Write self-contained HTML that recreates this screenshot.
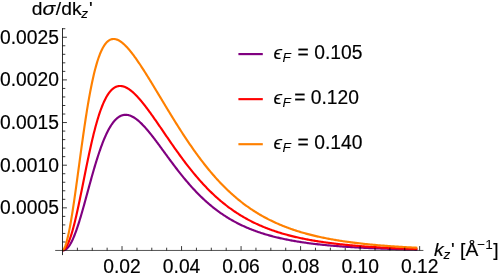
<!DOCTYPE html>
<html><head><meta charset="utf-8"><title>plot</title>
<style>html,body{margin:0;padding:0;background:#fff;width:498px;height:274px;overflow:hidden}</style>
</head><body>
<svg width="498" height="274" viewBox="0 0 498 274" style="display:block;position:absolute;left:0;top:0">
<rect width="498" height="274" fill="#fff"/>
<path d="M62.50,250.50 L63.00,250.48 L63.50,250.40 L64.00,250.28 L64.50,250.11 L65.00,249.89 L65.50,249.61 L66.00,249.28 L66.50,248.89 L67.00,248.45 L67.50,247.95 L68.00,247.39 L68.50,246.78 L69.00,246.12 L69.50,245.39 L70.00,244.62 L70.50,243.79 L71.00,242.90 L71.50,241.96 L72.00,240.97 L72.50,239.93 L73.00,238.83 L73.50,237.69 L74.00,236.50 L74.50,235.26 L75.00,233.98 L75.50,232.66 L76.00,231.29 L76.50,229.89 L77.00,228.44 L77.50,226.96 L78.00,225.44 L78.50,223.89 L79.00,222.31 L79.50,220.70 L80.00,219.06 L80.50,217.39 L81.00,215.70 L81.50,213.99 L82.00,212.26 L82.50,210.51 L83.00,208.74 L83.50,206.96 L84.00,205.17 L84.50,203.36 L85.00,201.54 L85.50,199.72 L86.00,197.89 L86.50,196.06 L87.00,194.22 L87.50,192.38 L88.00,190.55 L88.50,188.71 L89.00,186.88 L89.50,185.05 L90.00,183.23 L90.50,181.42 L91.00,179.62 L91.50,177.83 L92.00,176.05 L92.50,174.28 L93.00,172.53 L93.50,170.79 L94.00,169.07 L94.50,167.36 L95.00,165.68 L95.50,164.02 L96.00,162.37 L96.50,160.75 L97.00,159.15 L97.50,157.57 L98.00,156.02 L98.50,154.49 L99.00,152.98 L99.50,151.50 L100.00,150.05 L100.50,148.63 L101.00,147.23 L101.50,145.86 L102.00,144.52 L102.50,143.21 L103.00,141.92 L103.50,140.67 L104.00,139.45 L104.50,138.25 L105.00,137.09 L105.50,135.95 L106.00,134.85 L106.50,133.78 L107.00,132.74 L107.50,131.73 L108.00,130.75 L108.50,129.80 L109.00,128.88 L109.50,128.00 L110.00,127.14 L110.50,126.32 L111.00,125.52 L111.50,124.76 L112.00,124.03 L112.50,123.32 L113.00,122.65 L113.50,122.01 L114.00,121.39 L114.50,120.81 L115.00,120.25 L115.50,119.73 L116.00,119.23 L116.50,118.76 L117.00,118.32 L117.50,117.91 L118.00,117.52 L118.50,117.17 L119.00,116.84 L119.50,116.53 L120.00,116.25 L120.50,116.00 L121.00,115.77 L121.50,115.57 L122.00,115.39 L122.50,115.24 L123.00,115.11 L123.50,115.00 L124.00,114.92 L124.50,114.86 L125.00,114.82 L125.50,114.81 L126.00,114.82 L126.50,114.84 L127.00,114.89 L127.50,114.96 L128.00,115.05 L128.50,115.16 L129.00,115.29 L129.50,115.43 L130.00,115.60 L130.50,115.78 L131.00,115.98 L131.50,116.20 L132.00,116.44 L132.50,116.69 L133.00,116.96 L133.50,117.24 L134.00,117.54 L134.50,117.85 L135.00,118.18 L135.50,118.53 L136.00,118.88 L136.50,119.25 L137.00,119.64 L137.50,120.03 L138.00,120.44 L138.50,120.87 L139.00,121.30 L139.50,121.75 L140.00,122.20 L140.50,122.67 L141.00,123.15 L141.50,123.63 L142.00,124.13 L142.50,124.64 L143.00,125.16 L143.50,125.68 L144.00,126.22 L144.50,126.76 L145.00,127.31 L145.50,127.87 L146.00,128.44 L146.50,129.01 L147.00,129.59 L147.50,130.18 L148.00,130.77 L148.50,131.37 L149.00,131.98 L149.50,132.59 L150.00,133.21 L150.50,133.83 L151.00,134.45 L151.50,135.09 L152.00,135.72 L152.50,136.36 L153.00,137.01 L153.50,137.66 L154.00,138.31 L154.50,138.96 L155.00,139.62 L155.50,140.28 L156.00,140.95 L156.50,141.62 L157.00,142.28 L157.50,142.96 L158.00,143.63 L158.50,144.31 L159.00,144.98 L159.50,145.66 L160.00,146.34 L160.50,147.02 L161.00,147.71 L161.50,148.39 L162.00,149.07 L162.50,149.76 L163.00,150.44 L163.50,151.13 L164.00,151.81 L164.50,152.50 L165.00,153.18 L165.50,153.87 L166.00,154.55 L166.50,155.23 L167.00,155.92 L167.50,156.60 L168.00,157.28 L168.50,157.96 L169.00,158.64 L169.50,159.32 L170.00,160.00 L171.00,161.34 L172.00,162.69 L173.00,164.02 L174.00,165.35 L175.00,166.67 L176.00,167.98 L177.00,169.28 L178.00,170.57 L179.00,171.85 L180.00,173.12 L181.00,174.38 L182.00,175.62 L183.00,176.86 L184.00,178.08 L185.00,179.28 L186.00,180.48 L187.00,181.66 L188.00,182.82 L189.00,183.98 L190.00,185.12 L191.00,186.24 L192.00,187.35 L193.00,188.45 L194.00,189.53 L195.00,190.60 L196.00,191.65 L197.00,192.69 L198.00,193.71 L199.00,194.72 L200.00,195.71 L201.00,196.69 L202.00,197.65 L203.00,198.60 L204.00,199.54 L205.00,200.46 L206.00,201.36 L207.00,202.25 L208.00,203.13 L209.00,203.99 L210.00,204.84 L211.00,205.67 L212.00,206.49 L213.00,207.30 L214.00,208.10 L215.00,208.87 L216.00,209.64 L217.00,210.39 L218.00,211.13 L219.00,211.86 L220.00,212.58 L221.00,213.28 L222.00,213.97 L223.00,214.65 L224.00,215.31 L225.00,215.96 L226.00,216.61 L227.00,217.24 L228.00,217.85 L229.00,218.46 L230.00,219.06 L231.00,219.64 L232.00,220.22 L233.00,220.78 L234.00,221.33 L235.00,221.88 L236.00,222.41 L237.00,222.93 L238.00,223.45 L239.00,223.95 L240.00,224.44 L241.00,224.93 L242.00,225.41 L243.00,225.87 L244.00,226.33 L245.00,226.78 L246.00,227.22 L247.00,227.65 L248.00,228.08 L249.00,228.49 L250.00,228.90 L251.00,229.30 L252.00,229.70 L253.00,230.08 L254.00,230.46 L255.00,230.83 L256.00,231.20 L257.00,231.55 L258.00,231.90 L259.00,232.25 L260.00,232.58 L261.00,232.91 L262.00,233.24 L263.00,233.56 L264.00,233.87 L265.00,234.18 L266.00,234.48 L267.00,234.77 L268.00,235.06 L269.00,235.34 L270.00,235.62 L271.00,235.89 L272.00,236.16 L273.00,236.42 L274.00,236.68 L275.00,236.93 L276.00,237.18 L277.00,237.43 L278.00,237.66 L279.00,237.90 L280.00,238.13 L281.00,238.35 L282.00,238.57 L283.00,238.79 L284.00,239.00 L285.00,239.21 L286.00,239.42 L287.00,239.62 L288.00,239.82 L289.00,240.01 L290.00,240.20 L291.00,240.39 L292.00,240.57 L293.00,240.75 L294.00,240.93 L295.00,241.10 L296.00,241.27 L297.00,241.44 L298.00,241.60 L299.00,241.76 L300.00,241.92 L301.00,242.07 L302.00,242.22 L303.00,242.37 L304.00,242.52 L305.00,242.66 L306.00,242.80 L307.00,242.94 L308.00,243.08 L309.00,243.21 L310.00,243.34 L311.00,243.47 L312.00,243.60 L313.00,243.72 L314.00,243.84 L315.00,243.96 L316.00,244.08 L317.00,244.19 L318.00,244.31 L319.00,244.42 L320.00,244.53 L321.00,244.64 L322.00,244.74 L323.00,244.84 L324.00,244.95 L325.00,245.05 L326.00,245.14 L327.00,245.24 L328.00,245.33 L329.00,245.43 L330.00,245.52 L331.00,245.61 L332.00,245.70 L333.00,245.78 L334.00,245.87 L335.00,245.95 L336.00,246.03 L337.00,246.11 L338.00,246.19 L339.00,246.27 L340.00,246.35 L341.00,246.42 L342.00,246.50 L343.00,246.57 L344.00,246.64 L345.00,246.71 L346.00,246.78 L347.00,246.85 L348.00,246.91 L349.00,246.98 L350.00,247.04 L351.00,247.11 L352.00,247.17 L353.00,247.23 L354.00,247.29 L355.00,247.35 L356.00,247.41 L357.00,247.46 L358.00,247.52 L359.00,247.58 L360.00,247.63 L361.00,247.68 L362.00,247.74 L363.00,247.79 L364.00,247.84 L365.00,247.89 L366.00,247.94 L367.00,247.98 L368.00,248.03 L369.00,248.08 L370.00,248.12 L371.00,248.17 L372.00,248.21 L373.00,248.26 L374.00,248.30 L375.00,248.34 L376.00,248.38 L377.00,248.42 L378.00,248.46 L379.00,248.50 L380.00,248.54 L381.00,248.58 L382.00,248.62 L383.00,248.66 L384.00,248.69 L385.00,248.73 L386.00,248.76 L387.00,248.80 L388.00,248.83 L389.00,248.86 L390.00,248.90 L391.00,248.93 L392.00,248.96 L393.00,248.99 L394.00,249.02 L395.00,249.05 L396.00,249.08 L397.00,249.11 L398.00,249.14 L399.00,249.17 L400.00,249.20 L401.00,249.23 L402.00,249.25 L403.00,249.28 L404.00,249.31 L405.00,249.33 L406.00,249.36 L407.00,249.38 L408.00,249.41 L409.00,249.43 L410.00,249.46 L411.00,249.48 L412.00,249.50 L413.00,249.53 L414.00,249.55 L415.00,249.57 L416.00,249.59 L417.00,249.61 L417.40,249.62" fill="none" stroke="#800080" stroke-width="2.15" stroke-linejoin="round"/>
<path d="M62.50,250.50 L63.00,250.31 L63.50,250.03 L64.00,249.66 L64.50,249.21 L65.00,248.66 L65.50,248.03 L66.00,247.32 L66.50,246.52 L67.00,245.63 L67.50,244.67 L68.00,243.62 L68.50,242.48 L69.00,241.27 L69.50,239.98 L70.00,238.61 L70.50,237.17 L71.00,235.66 L71.50,234.07 L72.00,232.41 L72.50,230.69 L73.00,228.90 L73.50,227.05 L74.00,225.14 L74.50,223.17 L75.00,221.15 L75.50,219.07 L76.00,216.95 L76.50,214.78 L77.00,212.56 L77.50,210.30 L78.00,208.01 L78.50,205.68 L79.00,203.32 L79.50,200.94 L80.00,198.53 L80.50,196.09 L81.00,193.64 L81.50,191.17 L82.00,188.69 L82.50,186.21 L83.00,183.71 L83.50,181.21 L84.00,178.72 L84.50,176.22 L85.00,173.73 L85.50,171.25 L86.00,168.78 L86.50,166.33 L87.00,163.89 L87.50,161.47 L88.00,159.07 L88.50,156.69 L89.00,154.34 L89.50,152.02 L90.00,149.72 L90.50,147.46 L91.00,145.23 L91.50,143.03 L92.00,140.87 L92.50,138.75 L93.00,136.66 L93.50,134.61 L94.00,132.61 L94.50,130.64 L95.00,128.72 L95.50,126.84 L96.00,125.00 L96.50,123.21 L97.00,121.47 L97.50,119.76 L98.00,118.11 L98.50,116.50 L99.00,114.93 L99.50,113.41 L100.00,111.94 L100.50,110.51 L101.00,109.13 L101.50,107.79 L102.00,106.50 L102.50,105.25 L103.00,104.05 L103.50,102.89 L104.00,101.78 L104.50,100.71 L105.00,99.68 L105.50,98.70 L106.00,97.75 L106.50,96.85 L107.00,95.99 L107.50,95.18 L108.00,94.40 L108.50,93.66 L109.00,92.96 L109.50,92.29 L110.00,91.67 L110.50,91.08 L111.00,90.52 L111.50,90.01 L112.00,89.52 L112.50,89.07 L113.00,88.66 L113.50,88.27 L114.00,87.92 L114.50,87.60 L115.00,87.31 L115.50,87.06 L116.00,86.83 L116.50,86.63 L117.00,86.45 L117.50,86.31 L118.00,86.19 L118.50,86.10 L119.00,86.03 L119.50,85.99 L120.00,85.97 L120.50,85.98 L121.00,86.01 L121.50,86.06 L122.00,86.14 L122.50,86.23 L123.00,86.35 L123.50,86.49 L124.00,86.64 L124.50,86.82 L125.00,87.02 L125.50,87.23 L126.00,87.47 L126.50,87.72 L127.00,87.98 L127.50,88.27 L128.00,88.57 L128.50,88.88 L129.00,89.21 L129.50,89.56 L130.00,89.92 L130.50,90.30 L131.00,90.68 L131.50,91.09 L132.00,91.50 L132.50,91.93 L133.00,92.37 L133.50,92.82 L134.00,93.28 L134.50,93.76 L135.00,94.24 L135.50,94.74 L136.00,95.24 L136.50,95.76 L137.00,96.28 L137.50,96.82 L138.00,97.36 L138.50,97.91 L139.00,98.47 L139.50,99.04 L140.00,99.62 L140.50,100.20 L141.00,100.80 L141.50,101.40 L142.00,102.00 L142.50,102.62 L143.00,103.23 L143.50,103.86 L144.00,104.49 L144.50,105.13 L145.00,105.77 L145.50,106.42 L146.00,107.07 L146.50,107.73 L147.00,108.40 L147.50,109.06 L148.00,109.74 L148.50,110.41 L149.00,111.09 L149.50,111.78 L150.00,112.47 L150.50,113.16 L151.00,113.85 L151.50,114.55 L152.00,115.25 L152.50,115.96 L153.00,116.66 L153.50,117.37 L154.00,118.08 L154.50,118.80 L155.00,119.51 L155.50,120.23 L156.00,120.95 L156.50,121.67 L157.00,122.40 L157.50,123.12 L158.00,123.85 L158.50,124.57 L159.00,125.30 L159.50,126.03 L160.00,126.76 L160.50,127.49 L161.00,128.22 L161.50,128.95 L162.00,129.69 L162.50,130.42 L163.00,131.15 L163.50,131.88 L164.00,132.61 L164.50,133.35 L165.00,134.08 L165.50,134.81 L166.00,135.54 L166.50,136.27 L167.00,137.00 L167.50,137.73 L168.00,138.46 L168.50,139.18 L169.00,139.91 L169.50,140.64 L170.00,141.36 L171.00,142.80 L172.00,144.24 L173.00,145.68 L174.00,147.10 L175.00,148.52 L176.00,149.93 L177.00,151.34 L178.00,152.73 L179.00,154.12 L180.00,155.50 L181.00,156.86 L182.00,158.22 L183.00,159.57 L184.00,160.90 L185.00,162.23 L186.00,163.54 L187.00,164.84 L188.00,166.13 L189.00,167.41 L190.00,168.67 L191.00,169.92 L192.00,171.16 L193.00,172.39 L194.00,173.60 L195.00,174.80 L196.00,175.99 L197.00,177.16 L198.00,178.32 L199.00,179.47 L200.00,180.60 L201.00,181.72 L202.00,182.82 L203.00,183.91 L204.00,184.99 L205.00,186.05 L206.00,187.10 L207.00,188.14 L208.00,189.16 L209.00,190.17 L210.00,191.16 L211.00,192.14 L212.00,193.11 L213.00,194.06 L214.00,195.00 L215.00,195.93 L216.00,196.84 L217.00,197.74 L218.00,198.62 L219.00,199.50 L220.00,200.36 L221.00,201.20 L222.00,202.04 L223.00,202.86 L224.00,203.66 L225.00,204.46 L226.00,205.24 L227.00,206.01 L228.00,206.77 L229.00,207.52 L230.00,208.25 L231.00,208.98 L232.00,209.69 L233.00,210.39 L234.00,211.07 L235.00,211.75 L236.00,212.42 L237.00,213.07 L238.00,213.72 L239.00,214.35 L240.00,214.97 L241.00,215.59 L242.00,216.19 L243.00,216.78 L244.00,217.36 L245.00,217.93 L246.00,218.50 L247.00,219.05 L248.00,219.59 L249.00,220.13 L250.00,220.65 L251.00,221.17 L252.00,221.68 L253.00,222.17 L254.00,222.66 L255.00,223.15 L256.00,223.62 L257.00,224.08 L258.00,224.54 L259.00,224.99 L260.00,225.43 L261.00,225.86 L262.00,226.29 L263.00,226.71 L264.00,227.12 L265.00,227.52 L266.00,227.92 L267.00,228.31 L268.00,228.69 L269.00,229.07 L270.00,229.44 L271.00,229.80 L272.00,230.16 L273.00,230.51 L274.00,230.86 L275.00,231.20 L276.00,231.53 L277.00,231.86 L278.00,232.18 L279.00,232.49 L280.00,232.80 L281.00,233.11 L282.00,233.41 L283.00,233.70 L284.00,233.99 L285.00,234.27 L286.00,234.55 L287.00,234.83 L288.00,235.09 L289.00,235.36 L290.00,235.62 L291.00,235.87 L292.00,236.13 L293.00,236.37 L294.00,236.61 L295.00,236.85 L296.00,237.09 L297.00,237.32 L298.00,237.54 L299.00,237.76 L300.00,237.98 L301.00,238.20 L302.00,238.41 L303.00,238.61 L304.00,238.82 L305.00,239.02 L306.00,239.21 L307.00,239.41 L308.00,239.59 L309.00,239.78 L310.00,239.96 L311.00,240.14 L312.00,240.32 L313.00,240.50 L314.00,240.67 L315.00,240.83 L316.00,241.00 L317.00,241.16 L318.00,241.32 L319.00,241.48 L320.00,241.63 L321.00,241.78 L322.00,241.93 L323.00,242.08 L324.00,242.22 L325.00,242.36 L326.00,242.50 L327.00,242.64 L328.00,242.77 L329.00,242.91 L330.00,243.04 L331.00,243.16 L332.00,243.29 L333.00,243.41 L334.00,243.54 L335.00,243.66 L336.00,243.77 L337.00,243.89 L338.00,244.00 L339.00,244.11 L340.00,244.22 L341.00,244.33 L342.00,244.44 L343.00,244.54 L344.00,244.65 L345.00,244.75 L346.00,244.85 L347.00,244.94 L348.00,245.04 L349.00,245.13 L350.00,245.23 L351.00,245.32 L352.00,245.41 L353.00,245.50 L354.00,245.58 L355.00,245.67 L356.00,245.76 L357.00,245.84 L358.00,245.92 L359.00,246.00 L360.00,246.08 L361.00,246.16 L362.00,246.23 L363.00,246.31 L364.00,246.38 L365.00,246.46 L366.00,246.53 L367.00,246.60 L368.00,246.67 L369.00,246.74 L370.00,246.80 L371.00,246.87 L372.00,246.93 L373.00,247.00 L374.00,247.06 L375.00,247.12 L376.00,247.18 L377.00,247.24 L378.00,247.30 L379.00,247.36 L380.00,247.42 L381.00,247.48 L382.00,247.53 L383.00,247.59 L384.00,247.64 L385.00,247.69 L386.00,247.75 L387.00,247.80 L388.00,247.85 L389.00,247.90 L390.00,247.95 L391.00,247.99 L392.00,248.04 L393.00,248.09 L394.00,248.13 L395.00,248.18 L396.00,248.22 L397.00,248.27 L398.00,248.31 L399.00,248.35 L400.00,248.40 L401.00,248.44 L402.00,248.48 L403.00,248.52 L404.00,248.56 L405.00,248.60 L406.00,248.63 L407.00,248.67 L408.00,248.71 L409.00,248.75 L410.00,248.78 L411.00,248.82 L412.00,248.85 L413.00,248.89 L414.00,248.92 L415.00,248.95 L416.00,248.99 L417.00,249.02 L417.40,249.03" fill="none" stroke="#ff0000" stroke-width="2.15" stroke-linejoin="round"/>
<path d="M62.50,250.50 L63.00,250.11 L63.50,249.53 L64.00,248.75 L64.50,247.78 L65.00,246.63 L65.50,245.31 L66.00,243.81 L66.50,242.16 L67.00,240.34 L67.50,238.37 L68.00,236.26 L68.50,234.01 L69.00,231.62 L69.50,229.11 L70.00,226.47 L70.50,223.73 L71.00,220.87 L71.50,217.91 L72.00,214.85 L72.50,211.71 L73.00,208.49 L73.50,205.19 L74.00,201.82 L74.50,198.39 L75.00,194.90 L75.50,191.37 L76.00,187.79 L76.50,184.18 L77.00,180.54 L77.50,176.87 L78.00,173.19 L78.50,169.50 L79.00,165.81 L79.50,162.12 L80.00,158.43 L80.50,154.76 L81.00,151.10 L81.50,147.47 L82.00,143.86 L82.50,140.29 L83.00,136.75 L83.50,133.25 L84.00,129.80 L84.50,126.39 L85.00,123.04 L85.50,119.74 L86.00,116.50 L86.50,113.32 L87.00,110.19 L87.50,107.14 L88.00,104.15 L88.50,101.23 L89.00,98.37 L89.50,95.59 L90.00,92.88 L90.50,90.24 L91.00,87.68 L91.50,85.19 L92.00,82.77 L92.50,80.43 L93.00,78.16 L93.50,75.97 L94.00,73.85 L94.50,71.81 L95.00,69.83 L95.50,67.94 L96.00,66.11 L96.50,64.35 L97.00,62.67 L97.50,61.05 L98.00,59.50 L98.50,58.02 L99.00,56.61 L99.50,55.26 L100.00,53.98 L100.50,52.76 L101.00,51.60 L101.50,50.50 L102.00,49.46 L102.50,48.48 L103.00,47.56 L103.50,46.69 L104.00,45.87 L104.50,45.11 L105.00,44.40 L105.50,43.74 L106.00,43.13 L106.50,42.56 L107.00,42.04 L107.50,41.57 L108.00,41.14 L108.50,40.76 L109.00,40.41 L109.50,40.11 L110.00,39.84 L110.50,39.61 L111.00,39.42 L111.50,39.27 L112.00,39.14 L112.50,39.06 L113.00,39.00 L113.50,38.98 L114.00,38.99 L114.50,39.03 L115.00,39.09 L115.50,39.19 L116.00,39.31 L116.50,39.45 L117.00,39.63 L117.50,39.82 L118.00,40.04 L118.50,40.29 L119.00,40.55 L119.50,40.84 L120.00,41.15 L120.50,41.48 L121.00,41.82 L121.50,42.19 L122.00,42.57 L122.50,42.97 L123.00,43.39 L123.50,43.83 L124.00,44.28 L124.50,44.74 L125.00,45.22 L125.50,45.72 L126.00,46.23 L126.50,46.75 L127.00,47.29 L127.50,47.83 L128.00,48.39 L128.50,48.96 L129.00,49.55 L129.50,50.14 L130.00,50.74 L130.50,51.36 L131.00,51.98 L131.50,52.61 L132.00,53.25 L132.50,53.90 L133.00,54.56 L133.50,55.23 L134.00,55.90 L134.50,56.59 L135.00,57.28 L135.50,57.97 L136.00,58.68 L136.50,59.39 L137.00,60.10 L137.50,60.83 L138.00,61.55 L138.50,62.29 L139.00,63.03 L139.50,63.77 L140.00,64.52 L140.50,65.27 L141.00,66.03 L141.50,66.80 L142.00,67.56 L142.50,68.34 L143.00,69.11 L143.50,69.89 L144.00,70.67 L144.50,71.46 L145.00,72.25 L145.50,73.04 L146.00,73.84 L146.50,74.63 L147.00,75.44 L147.50,76.24 L148.00,77.04 L148.50,77.85 L149.00,78.66 L149.50,79.48 L150.00,80.29 L150.50,81.11 L151.00,81.92 L151.50,82.74 L152.00,83.57 L152.50,84.39 L153.00,85.21 L153.50,86.04 L154.00,86.86 L154.50,87.69 L155.00,88.52 L155.50,89.35 L156.00,90.18 L156.50,91.01 L157.00,91.84 L157.50,92.67 L158.00,93.50 L158.50,94.33 L159.00,95.16 L159.50,96.00 L160.00,96.83 L160.50,97.66 L161.00,98.49 L161.50,99.32 L162.00,100.16 L162.50,100.99 L163.00,101.82 L163.50,102.65 L164.00,103.48 L164.50,104.31 L165.00,105.14 L165.50,105.96 L166.00,106.79 L166.50,107.62 L167.00,108.44 L167.50,109.27 L168.00,110.09 L168.50,110.91 L169.00,111.73 L169.50,112.55 L170.00,113.37 L171.00,115.01 L172.00,116.63 L173.00,118.26 L174.00,119.87 L175.00,121.48 L176.00,123.08 L177.00,124.67 L178.00,126.26 L179.00,127.83 L180.00,129.40 L181.00,130.96 L182.00,132.51 L183.00,134.05 L184.00,135.58 L185.00,137.10 L186.00,138.61 L187.00,140.10 L188.00,141.59 L189.00,143.07 L190.00,144.53 L191.00,145.98 L192.00,147.43 L193.00,148.85 L194.00,150.27 L195.00,151.67 L196.00,153.07 L197.00,154.44 L198.00,155.81 L199.00,157.16 L200.00,158.50 L201.00,159.83 L202.00,161.14 L203.00,162.44 L204.00,163.73 L205.00,165.00 L206.00,166.26 L207.00,167.50 L208.00,168.73 L209.00,169.95 L210.00,171.16 L211.00,172.35 L212.00,173.52 L213.00,174.68 L214.00,175.83 L215.00,176.96 L216.00,178.09 L217.00,179.19 L218.00,180.28 L219.00,181.36 L220.00,182.43 L221.00,183.48 L222.00,184.52 L223.00,185.54 L224.00,186.55 L225.00,187.55 L226.00,188.53 L227.00,189.50 L228.00,190.46 L229.00,191.40 L230.00,192.33 L231.00,193.25 L232.00,194.16 L233.00,195.05 L234.00,195.93 L235.00,196.79 L236.00,197.65 L237.00,198.49 L238.00,199.32 L239.00,200.13 L240.00,200.94 L241.00,201.73 L242.00,202.51 L243.00,203.28 L244.00,204.04 L245.00,204.79 L246.00,205.52 L247.00,206.25 L248.00,206.96 L249.00,207.66 L250.00,208.35 L251.00,209.03 L252.00,209.70 L253.00,210.36 L254.00,211.01 L255.00,211.65 L256.00,212.28 L257.00,212.90 L258.00,213.51 L259.00,214.11 L260.00,214.70 L261.00,215.28 L262.00,215.85 L263.00,216.41 L264.00,216.96 L265.00,217.51 L266.00,218.04 L267.00,218.57 L268.00,219.09 L269.00,219.60 L270.00,220.10 L271.00,220.59 L272.00,221.08 L273.00,221.56 L274.00,222.03 L275.00,222.49 L276.00,222.94 L277.00,223.39 L278.00,223.83 L279.00,224.26 L280.00,224.69 L281.00,225.11 L282.00,225.52 L283.00,225.92 L284.00,226.32 L285.00,226.71 L286.00,227.10 L287.00,227.48 L288.00,227.85 L289.00,228.22 L290.00,228.58 L291.00,228.93 L292.00,229.28 L293.00,229.62 L294.00,229.96 L295.00,230.29 L296.00,230.62 L297.00,230.94 L298.00,231.25 L299.00,231.56 L300.00,231.87 L301.00,232.17 L302.00,232.46 L303.00,232.75 L304.00,233.04 L305.00,233.32 L306.00,233.60 L307.00,233.87 L308.00,234.14 L309.00,234.40 L310.00,234.66 L311.00,234.91 L312.00,235.16 L313.00,235.41 L314.00,235.65 L315.00,235.89 L316.00,236.12 L317.00,236.35 L318.00,236.58 L319.00,236.80 L320.00,237.02 L321.00,237.24 L322.00,237.45 L323.00,237.66 L324.00,237.86 L325.00,238.06 L326.00,238.26 L327.00,238.46 L328.00,238.65 L329.00,238.84 L330.00,239.02 L331.00,239.21 L332.00,239.39 L333.00,239.56 L334.00,239.74 L335.00,239.91 L336.00,240.08 L337.00,240.24 L338.00,240.41 L339.00,240.57 L340.00,240.73 L341.00,240.88 L342.00,241.04 L343.00,241.19 L344.00,241.33 L345.00,241.48 L346.00,241.62 L347.00,241.76 L348.00,241.90 L349.00,242.04 L350.00,242.18 L351.00,242.31 L352.00,242.44 L353.00,242.57 L354.00,242.69 L355.00,242.82 L356.00,242.94 L357.00,243.06 L358.00,243.18 L359.00,243.30 L360.00,243.41 L361.00,243.52 L362.00,243.64 L363.00,243.75 L364.00,243.85 L365.00,243.96 L366.00,244.06 L367.00,244.17 L368.00,244.27 L369.00,244.37 L370.00,244.47 L371.00,244.56 L372.00,244.66 L373.00,244.75 L374.00,244.84 L375.00,244.94 L376.00,245.03 L377.00,245.11 L378.00,245.20 L379.00,245.29 L380.00,245.37 L381.00,245.45 L382.00,245.53 L383.00,245.61 L384.00,245.69 L385.00,245.77 L386.00,245.85 L387.00,245.92 L388.00,246.00 L389.00,246.07 L390.00,246.14 L391.00,246.22 L392.00,246.29 L393.00,246.36 L394.00,246.42 L395.00,246.49 L396.00,246.56 L397.00,246.62 L398.00,246.69 L399.00,246.75 L400.00,246.81 L401.00,246.87 L402.00,246.93 L403.00,246.99 L404.00,247.05 L405.00,247.11 L406.00,247.16 L407.00,247.22 L408.00,247.28 L409.00,247.33 L410.00,247.38 L411.00,247.44 L412.00,247.49 L413.00,247.54 L414.00,247.59 L415.00,247.64 L416.00,247.69 L417.00,247.74 L417.40,247.76" fill="none" stroke="#ff8000" stroke-width="2.15" stroke-linejoin="round"/>
<g stroke="#000" stroke-width="0.78" fill="none">
<line x1="55.2" y1="250.45" x2="423.4" y2="250.45" stroke-width="0.68"/>
<line x1="62.5" y1="28.1" x2="62.5" y2="255.1" stroke-width="0.82"/>
<line x1="77.38" y1="250.5" x2="77.38" y2="247.70"/>
<line x1="92.26" y1="250.5" x2="92.26" y2="247.70"/>
<line x1="107.14" y1="250.5" x2="107.14" y2="247.70"/>
<line x1="122.03" y1="250.5" x2="122.03" y2="246.10"/>
<line x1="136.91" y1="250.5" x2="136.91" y2="247.70"/>
<line x1="151.79" y1="250.5" x2="151.79" y2="247.70"/>
<line x1="166.67" y1="250.5" x2="166.67" y2="247.70"/>
<line x1="181.55" y1="250.5" x2="181.55" y2="246.10"/>
<line x1="196.43" y1="250.5" x2="196.43" y2="247.70"/>
<line x1="211.31" y1="250.5" x2="211.31" y2="247.70"/>
<line x1="226.19" y1="250.5" x2="226.19" y2="247.70"/>
<line x1="241.07" y1="250.5" x2="241.07" y2="246.10"/>
<line x1="255.96" y1="250.5" x2="255.96" y2="247.70"/>
<line x1="270.84" y1="250.5" x2="270.84" y2="247.70"/>
<line x1="285.72" y1="250.5" x2="285.72" y2="247.70"/>
<line x1="300.60" y1="250.5" x2="300.60" y2="246.10"/>
<line x1="315.48" y1="250.5" x2="315.48" y2="247.70"/>
<line x1="330.36" y1="250.5" x2="330.36" y2="247.70"/>
<line x1="345.24" y1="250.5" x2="345.24" y2="247.70"/>
<line x1="360.12" y1="250.5" x2="360.12" y2="246.10"/>
<line x1="375.01" y1="250.5" x2="375.01" y2="247.70"/>
<line x1="389.89" y1="250.5" x2="389.89" y2="247.70"/>
<line x1="404.77" y1="250.5" x2="404.77" y2="247.70"/>
<line x1="419.65" y1="250.5" x2="419.65" y2="246.10"/>
<line x1="62.5" y1="241.97" x2="65.30" y2="241.97"/>
<line x1="62.5" y1="233.44" x2="65.30" y2="233.44"/>
<line x1="62.5" y1="224.91" x2="65.30" y2="224.91"/>
<line x1="62.5" y1="216.38" x2="65.30" y2="216.38"/>
<line x1="62.5" y1="207.85" x2="66.90" y2="207.85"/>
<line x1="62.5" y1="199.32" x2="65.30" y2="199.32"/>
<line x1="62.5" y1="190.79" x2="65.30" y2="190.79"/>
<line x1="62.5" y1="182.26" x2="65.30" y2="182.26"/>
<line x1="62.5" y1="173.73" x2="65.30" y2="173.73"/>
<line x1="62.5" y1="165.20" x2="66.90" y2="165.20"/>
<line x1="62.5" y1="156.67" x2="65.30" y2="156.67"/>
<line x1="62.5" y1="148.14" x2="65.30" y2="148.14"/>
<line x1="62.5" y1="139.61" x2="65.30" y2="139.61"/>
<line x1="62.5" y1="131.08" x2="65.30" y2="131.08"/>
<line x1="62.5" y1="122.55" x2="66.90" y2="122.55"/>
<line x1="62.5" y1="114.02" x2="65.30" y2="114.02"/>
<line x1="62.5" y1="105.49" x2="65.30" y2="105.49"/>
<line x1="62.5" y1="96.96" x2="65.30" y2="96.96"/>
<line x1="62.5" y1="88.43" x2="65.30" y2="88.43"/>
<line x1="62.5" y1="79.90" x2="66.90" y2="79.90"/>
<line x1="62.5" y1="71.37" x2="65.30" y2="71.37"/>
<line x1="62.5" y1="62.84" x2="65.30" y2="62.84"/>
<line x1="62.5" y1="54.31" x2="65.30" y2="54.31"/>
<line x1="62.5" y1="45.78" x2="65.30" y2="45.78"/>
<line x1="62.5" y1="37.25" x2="66.90" y2="37.25"/>
<line x1="62.5" y1="28.72" x2="65.30" y2="28.72"/>
</g>
<g font-family="Liberation Sans, sans-serif" font-size="19.25" fill="#000" stroke="#000" stroke-width="0.18" style="will-change:transform">
<text transform="translate(58.90,214.30) scale(1.0,1.03)" text-anchor="end">0.0005</text>
<text transform="translate(58.90,171.65) scale(1.0,1.03)" text-anchor="end">0.0010</text>
<text transform="translate(58.90,129.00) scale(1.0,1.03)" text-anchor="end">0.0015</text>
<text transform="translate(58.90,86.35) scale(1.0,1.03)" text-anchor="end">0.0020</text>
<text transform="translate(58.90,43.70) scale(1.0,1.03)" text-anchor="end">0.0025</text>
<text transform="translate(122.03,273.40) scale(1.0,1.03)" text-anchor="middle">0.02</text>
<text transform="translate(181.55,273.40) scale(1.0,1.03)" text-anchor="middle">0.04</text>
<text transform="translate(241.07,273.40) scale(1.0,1.03)" text-anchor="middle">0.06</text>
<text transform="translate(300.60,273.40) scale(1.0,1.03)" text-anchor="middle">0.08</text>
<text transform="translate(360.12,273.40) scale(1.0,1.03)" text-anchor="middle">0.10</text>
<text transform="translate(419.65,273.40) scale(1.0,1.03)" text-anchor="middle">0.12</text>
<text x="31.80" y="15.30">d</text>
<text transform="translate(42.60,15.30) scale(1.1,1.0)" font-style="italic">σ</text>
<text x="55.85" y="15.30">/dk</text>
<text x="81.30" y="17.70" font-size="13.6" stroke-width="0.06" font-style="italic">z</text>
<text x="89.00" y="15.30">'</text>
<text x="433.90" y="255.60" font-style="italic">k</text>
<text x="443.50" y="259.30" font-size="13.6" stroke-width="0.06" font-style="italic">z</text>
<text x="450.90" y="255.60">'</text>
<text x="460.00" y="255.60">[</text>
<text x="465.40" y="255.60">Å</text>
<text x="477.30" y="248.60" font-size="13.6" stroke-width="0.06">−1</text>
<text x="493.20" y="255.60">]</text>
<line x1="238.4" y1="54.10" x2="262.8" y2="54.10" stroke="#800080" stroke-width="2.15"/>
<text x="273.40" y="59.00" font-style="italic">ϵ</text>
<text x="282.60" y="62.20" font-size="13.6" stroke-width="0.06" font-style="italic">F</text>
<text transform="translate(297.60,59.00) scale(1.0,1.03)">= 0.105</text>
<line x1="238.4" y1="99.15" x2="262.8" y2="99.15" stroke="#ff0000" stroke-width="2.15"/>
<text x="273.40" y="104.05" font-style="italic">ϵ</text>
<text x="282.60" y="107.25" font-size="13.6" stroke-width="0.06" font-style="italic">F</text>
<text transform="translate(294.20,104.05) scale(1.0,1.03)">= 0.120</text>
<line x1="238.4" y1="144.20" x2="262.8" y2="144.20" stroke="#ff8000" stroke-width="2.15"/>
<text x="273.40" y="149.10" font-style="italic">ϵ</text>
<text x="282.60" y="152.30" font-size="13.6" stroke-width="0.06" font-style="italic">F</text>
<text transform="translate(297.60,149.10) scale(1.0,1.03)">= 0.140</text>
</g>
</svg>
</body></html>
